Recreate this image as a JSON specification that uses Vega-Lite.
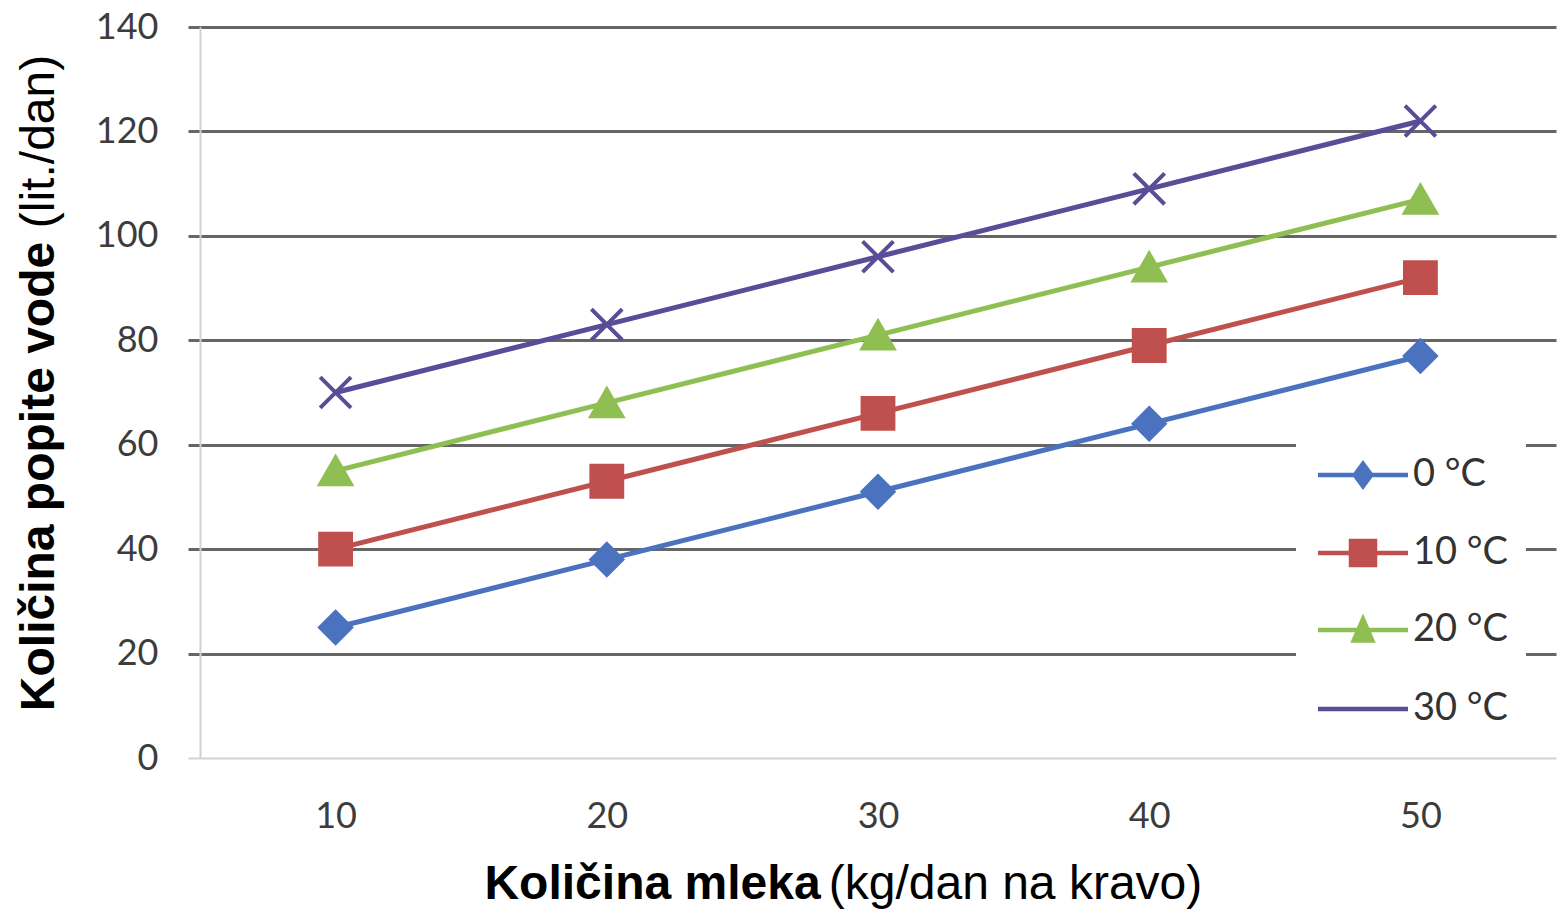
{
  "$schema": "https://vega.github.io/schema/vega-lite/v6.json",
  "width": 1356,
  "height": 731,
  "autosize": {"type": "none"},
  "padding": {"left": 200, "top": 27, "right": 1, "bottom": 162},
  "background": "white",
  "config": {
    "view": {"stroke": null},
    "axis": {
      "labelFont": "Lato",
      "labelFontSize": 36,
      "labelColor": "#3c3c3c",
      "titleFont": "Liberation Sans",
      "titleFontSize": 48,
      "titleColor": "#000000"
    }
  },
  "data": {
    "values": [
      {"mleko": 10, "voda": 25, "temperatura": "0 °C"},
      {"mleko": 20, "voda": 38, "temperatura": "0 °C"},
      {"mleko": 30, "voda": 51, "temperatura": "0 °C"},
      {"mleko": 40, "voda": 64, "temperatura": "0 °C"},
      {"mleko": 50, "voda": 77, "temperatura": "0 °C"},
      {"mleko": 10, "voda": 40, "temperatura": "10 °C"},
      {"mleko": 20, "voda": 53, "temperatura": "10 °C"},
      {"mleko": 30, "voda": 66, "temperatura": "10 °C"},
      {"mleko": 40, "voda": 79, "temperatura": "10 °C"},
      {"mleko": 50, "voda": 92, "temperatura": "10 °C"},
      {"mleko": 10, "voda": 55, "temperatura": "20 °C"},
      {"mleko": 20, "voda": 68, "temperatura": "20 °C"},
      {"mleko": 30, "voda": 81, "temperatura": "20 °C"},
      {"mleko": 40, "voda": 94, "temperatura": "20 °C"},
      {"mleko": 50, "voda": 107, "temperatura": "20 °C"},
      {"mleko": 10, "voda": 70, "temperatura": "30 °C"},
      {"mleko": 20, "voda": 83, "temperatura": "30 °C"},
      {"mleko": 30, "voda": 96, "temperatura": "30 °C"},
      {"mleko": 40, "voda": 109, "temperatura": "30 °C"},
      {"mleko": 50, "voda": 122, "temperatura": "30 °C"}
    ]
  },
  "layer": [
    {
      "encoding": {
        "x": {
          "field": "mleko",
          "type": "quantitative",
          "scale": {"domain": [5, 55], "nice": false, "zero": false},
          "axis": {
            "values": [10, 20, 30, 40, 50],
            "grid": false,
            "ticks": false,
            "domain": false,
            "labelPadding": 41,
            "title": "Količina mleka",
            "titleFontWeight": "bold",
            "titleX": 452,
            "titleY": 140,
            "titleAlign": "center",
            "titleBaseline": "alphabetic"
          }
        },
        "y": {
          "field": "voda",
          "type": "quantitative",
          "scale": {"domain": [0, 140], "nice": false},
          "axis": {
            "values": [0, 20, 40, 60, 80, 100, 120, 140],
            "grid": true,
            "gridColor": {"condition": {"test": "datum.value === 0", "value": "#d2d2d2"}, "value": "#666666"},
            "gridWidth": {"condition": {"test": "datum.value === 0", "value": 2}, "value": 3},
            "tickColor": {"condition": {"test": "datum.value === 0", "value": "#d2d2d2"}, "value": "#666666"},
            "tickWidth": {"condition": {"test": "datum.value === 0", "value": 2}, "value": 3},
            "tickSize": 12,
            "domainColor": "#d2d2d2",
            "domainWidth": 2,
            "labelPadding": 30,
            "title": "Količina popite vode",
            "titleFontWeight": "bold",
            "titleAngle": -90,
            "titleX": -147,
            "titleY": 449,
            "titleAlign": "center",
            "titleBaseline": "alphabetic"
          }
        }
      },
      "layer": [
        {
          "mark": {"type": "line", "strokeWidth": 5},
          "encoding": {
            "color": {
              "field": "temperatura",
              "type": "nominal",
              "scale": {
                "domain": ["0 °C", "10 °C", "20 °C", "30 °C"],
                "range": ["#4a72bf", "#c0504d", "#8fbf52", "#5b4c98"]
              },
              "legend": null
            }
          }
        },
        {
          "mark": {"type": "point", "filled": true, "opacity": 1, "size": 950, "strokeWidth": 4},
          "encoding": {
            "color": {"field": "temperatura", "type": "nominal", "legend": null},
            "stroke": {
              "field": "temperatura",
              "type": "nominal",
              "scale": {
                "domain": ["0 °C", "10 °C", "20 °C", "30 °C"],
                "range": ["#4a72bf", "#c0504d", "#8fbf52", "#5b4c98"]
              },
              "legend": null
            },
            "shape": {
              "field": "temperatura",
              "type": "nominal",
              "scale": {
                "domain": ["0 °C", "10 °C", "20 °C", "30 °C"],
                "range": ["diamond", "square", "triangle-up", "M-1,-1L1,1M-1,1L1,-1"]
              },
              "legend": null
            }
          }
        },
        {
          "transform": [{"filter": "false"}],
          "mark": {
            "type": "point",
            "filled": true,
            "size": 900,
            "strokeWidth": 4.5,
            "fill": {"expr": "datum.value === '0 °C' ? '#4a72bf' : datum.value === '10 °C' ? '#c0504d' : datum.value === '20 °C' ? '#8fbf52' : '#5b4c98'"},
            "stroke": {"expr": "datum.value === '0 °C' ? '#4a72bf' : datum.value === '10 °C' ? '#c0504d' : datum.value === '20 °C' ? '#8fbf52' : '#5b4c98'"}
          },
          "encoding": {
            "shape": {
              "field": "temperatura",
              "type": "nominal",
              "scale": {
                "domain": ["0 °C", "10 °C", "20 °C", "30 °C"],
                "range": [
                  "M-1,0L5,0M2,-0.75L2.55,0L2,0.75L1.45,0Z",
                  "M-1,0L5,0M1.2,-0.8H2.8V0.8H1.2Z",
                  "M-1,0L5,0M2,-0.72L2.62,0.7L1.38,0.7Z",
                  "M2,-0.9M2,0.9M-1,0L5,0"
                ]
              },
              "legend": {
                "title": null,
                "orient": "none",
                "legendX": 1096,
                "legendY": 411,
                "fillColor": "white",
                "padding": 18,
                "symbolSize": 900,
                "symbolStrokeWidth": 4.5,
                "symbolOpacity": 1,
                "labelFont": "Lato",
                "labelFontSize": 38,
                "labelColor": "#333333",
                "labelOffset": 61,
                "rowPadding": 36
              }
            }
          }
        }
      ],
      "resolve": {"scale": {"shape": "independent"}}
    },
    {
      "mark": {"type": "point", "opacity": 0},
      "encoding": {
        "x": {
          "field": "mleko",
          "type": "quantitative",
          "scale": {"domain": [5, 55], "nice": false, "zero": false},
          "axis": {
            "orient": "top",
            "labels": false,
            "ticks": false,
            "domain": false,
            "grid": false,
            "title": "(kg/dan na kravo)",
            "titleFontWeight": "normal",
            "titleX": 815,
            "titleY": 871,
            "titleAlign": "center",
            "titleBaseline": "alphabetic"
          }
        },
        "y": {
          "field": "voda",
          "type": "quantitative",
          "scale": {"domain": [0, 140], "nice": false},
          "axis": {
            "orient": "right",
            "labels": false,
            "ticks": false,
            "domain": false,
            "grid": false,
            "title": "(lit./dan)",
            "titleFontWeight": "normal",
            "titleAngle": -90,
            "titleX": -1503,
            "titleY": 114,
            "titleAlign": "center",
            "titleBaseline": "alphabetic"
          }
        }
      }
    }
  ],
  "resolve": {"scale": {"x": "independent", "y": "independent"}}
}
